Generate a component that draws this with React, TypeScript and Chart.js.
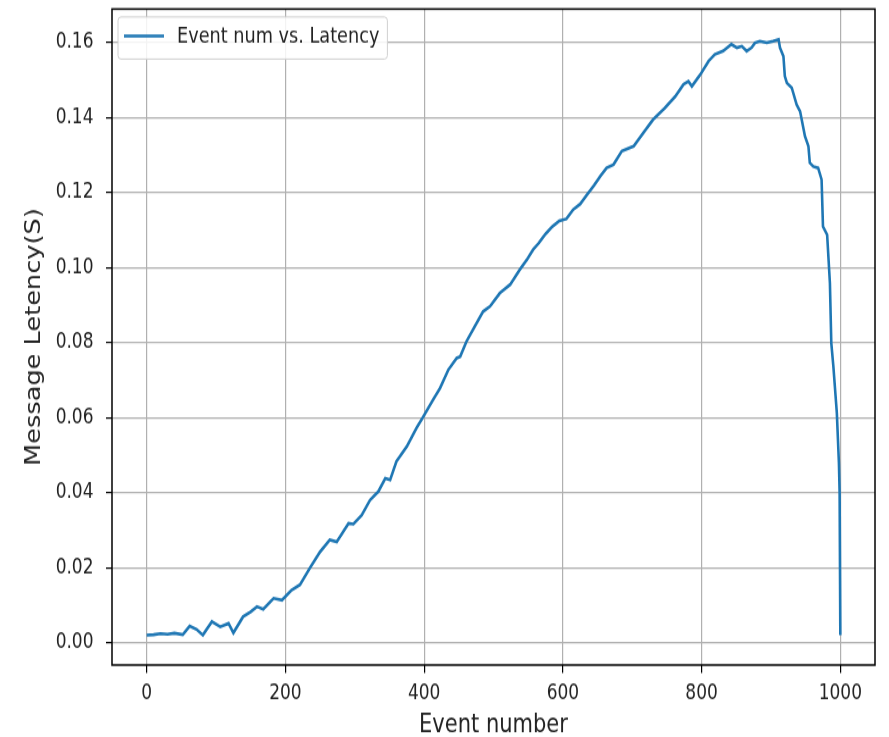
import React, { useEffect, useRef } from 'react';
import { Chart, registerables } from 'chart.js';

Chart.register(...registerables);

// ---- data ----
const seriesLabel = 'Event num vs. Latency';
const xTitle = 'Event number';
const yTitle = 'Message Letency(S)';

const eventNumbers = [
  0, 10, 20, 30, 40, 52, 62, 72, 81, 94, 106, 118, 125, 139, 150, 159, 168, 183, 195, 209,
  221, 235, 250, 264, 274, 291, 298, 310, 322, 334, 344, 351, 360, 375, 389, 399, 413, 423,
  435, 447, 452, 461, 473, 485, 495, 509, 524, 538, 548, 557, 565, 575, 585, 595, 605, 615,
  625, 635, 645, 654, 663, 673, 685, 702, 716, 730, 747, 762, 774, 781, 786, 798, 810, 819,
  831, 843, 851, 858, 865, 872, 877, 884, 894, 903, 911, 913, 918, 920, 923, 930, 937, 942,
  949, 954, 956, 961, 968, 973, 975, 981, 985, 987, 990, 995, 998, 999, 1000,
];

const latencies = [
  0.002, 0.0021, 0.0024, 0.0022, 0.0025, 0.0021, 0.0044, 0.0035, 0.002, 0.0056, 0.0042, 0.0051,
  0.0026, 0.0069, 0.0082, 0.0096, 0.0089, 0.0118, 0.0113, 0.014, 0.0154, 0.0198, 0.0242, 0.0274,
  0.0269, 0.0318, 0.0316, 0.034, 0.038, 0.0403, 0.0438, 0.0434, 0.0483, 0.0523, 0.0572, 0.0603,
  0.0648, 0.0679, 0.0728, 0.0759, 0.0763, 0.0803, 0.0843, 0.0883, 0.0897, 0.0932, 0.0955, 0.0995,
  0.1021, 0.1048, 0.1065, 0.109, 0.111, 0.1125, 0.113, 0.1155, 0.117, 0.1195, 0.122, 0.1244,
  0.1266, 0.1275, 0.1311, 0.1324, 0.136, 0.1395, 0.1426, 0.1457, 0.1489, 0.1497, 0.1484, 0.1515,
  0.1551, 0.1569, 0.1578, 0.1596, 0.1587, 0.1591, 0.1578, 0.1587, 0.16, 0.1604, 0.16, 0.1604,
  0.1609, 0.1587, 0.1564, 0.1511, 0.1493, 0.148, 0.1435, 0.1417, 0.1351, 0.1324, 0.128, 0.127,
  0.1266, 0.1235, 0.111, 0.1088, 0.0959, 0.0799, 0.0736, 0.0612, 0.0478, 0.04, 0.002,
];

const xTickValues = [0, 200, 400, 600, 800, 1000];
const yTickValues = [0, 0.02, 0.04, 0.06, 0.08, 0.1, 0.12, 0.14, 0.16];

const X_MIN = -50;
const X_MAX = 1050;
const Y_MIN = -0.006;
const Y_MAX = 0.169;

// ---- layout ----
const PAGE_W = 889;
const PAGE_H = 737;
const CANVAS_H = 604;
const STRETCH = PAGE_H / CANVAS_H;
const FONT = '"DejaVu Sans", "Noto Sans", sans-serif';
const LINE_COLOR = '#1f77b4';
const TEXT_COLOR = '#222222';

const framePlugin = {
  id: 'axesFrame',
  afterDraw(chart: any) {
    const { ctx, chartArea } = chart;
    ctx.save();
    ctx.strokeStyle = '#000000';
    ctx.lineWidth = 1.5;
    ctx.strokeRect(chartArea.left, chartArea.top, chartArea.right - chartArea.left, chartArea.bottom - chartArea.top);
    ctx.restore();
  },
};

const insideLegendPlugin = {
  id: 'insideLegend',
  afterDraw(chart: any) {
    const { ctx, chartArea } = chart;
    const ds = chart.data.datasets[0];
    ctx.save();
    ctx.font = `17.7px ${FONT}`;
    const textW = ctx.measureText(ds.label).width;
    const x0 = chartArea.left + 6;
    const y0 = chartArea.top + 6.5;
    const w = textW + 67;
    const h = 34.5;
    const r = 3;
    ctx.beginPath();
    ctx.moveTo(x0 + r, y0);
    ctx.lineTo(x0 + w - r, y0);
    ctx.quadraticCurveTo(x0 + w, y0, x0 + w, y0 + r);
    ctx.lineTo(x0 + w, y0 + h - r);
    ctx.quadraticCurveTo(x0 + w, y0 + h, x0 + w - r, y0 + h);
    ctx.lineTo(x0 + r, y0 + h);
    ctx.quadraticCurveTo(x0, y0 + h, x0, y0 + h - r);
    ctx.lineTo(x0, y0 + r);
    ctx.quadraticCurveTo(x0, y0, x0 + r, y0);
    ctx.closePath();
    ctx.fillStyle = 'rgba(255,255,255,0.85)';
    ctx.fill();
    ctx.strokeStyle = '#d0d0d0';
    ctx.lineWidth = 1;
    ctx.stroke();
    ctx.beginPath();
    ctx.moveTo(x0 + 6, y0 + 15.6);
    ctx.lineTo(x0 + 46, y0 + 15.6);
    ctx.strokeStyle = ds.borderColor;
    ctx.lineWidth = ds.borderWidth;
    ctx.stroke();
    ctx.fillStyle = TEXT_COLOR;
    ctx.textBaseline = 'middle';
    ctx.textAlign = 'left';
    ctx.fillText(ds.label, x0 + 59, y0 + 16);
    ctx.restore();
  },
};

export default function App() {
  const canvasRef = useRef<HTMLCanvasElement | null>(null);

  useEffect(() => {
    const canvas = canvasRef.current;
    if (!canvas) return;
    const points = eventNumbers.map((x, i) => ({ x, y: latencies[i] }));
    const chart = new Chart(canvas, {
      type: 'line',
      data: {
        datasets: [
          {
            label: seriesLabel,
            data: points,
            borderColor: LINE_COLOR,
            backgroundColor: LINE_COLOR,
            borderWidth: 2.6,
            pointRadius: 0,
            tension: 0,
            fill: false,
          },
        ],
      },
      options: {
        responsive: false,
        animation: false,
        devicePixelRatio: 1,
        layout: { padding: { top: 7.4, right: 14, bottom: 0, left: 0 } },
        plugins: {
          legend: { display: false },
          tooltip: { enabled: false },
          title: { display: false },
        },
        scales: {
          x: {
            type: 'linear',
            min: X_MIN,
            max: X_MAX,
            afterBuildTicks: (scale: any) => {
              scale.ticks = xTickValues.map((v) => ({ value: v }));
            },
            afterFit: (scale: any) => {
              scale.height = CANVAS_H - 545;
              scale.paddingLeft = 0;
              scale.paddingRight = 0;
            },
            border: { display: false },
            grid: {
              color: '#b0b0b0',
              lineWidth: 1.2,
              tickColor: '#000000',
              tickLength: 6.5,
              tickWidth: 1.2,
            },
            ticks: {
              padding: 7,
              color: TEXT_COLOR,
              font: { family: FONT, size: 17 },
              maxRotation: 0,
              autoSkip: false,
              callback: (v: any) => String(v),
            },
            title: {
              display: true,
              text: xTitle,
              color: TEXT_COLOR,
              font: { family: FONT, size: 21, lineHeight: 0.9 },
              padding: { top: 0, bottom: 0 },
            },
          },
          y: {
            type: 'linear',
            min: Y_MIN,
            max: Y_MAX,
            afterBuildTicks: (scale: any) => {
              scale.ticks = yTickValues.map((v) => ({ value: v }));
            },
            afterFit: (scale: any) => {
              scale.width = 112;
              scale.paddingTop = 0;
              scale.paddingBottom = 0;
            },
            border: { display: false },
            grid: {
              color: '#b0b0b0',
              lineWidth: 1.2,
              tickColor: '#000000',
              tickLength: 6,
              tickWidth: 1.2,
            },
            ticks: {
              padding: 12.5,
              color: TEXT_COLOR,
              font: { family: FONT, size: 17 },
              autoSkip: false,
              callback: (v: any) => Number(v).toFixed(2),
            },
            title: {
              display: true,
              text: yTitle,
              color: TEXT_COLOR,
              font: { family: FONT, size: 21, lineHeight: 1.2 },
              padding: { top: 22.4, bottom: 0 },
            },
          },
        },
      },
      plugins: [framePlugin, insideLegendPlugin],
    } as any);
    return () => {
      chart.destroy();
    };
  }, []);

  return (
    <div
      style={{
        position: 'absolute',
        left: 0,
        top: 0,
        width: PAGE_W,
        height: PAGE_H,
        overflow: 'hidden',
        background: '#ffffff',
      }}
    >
      <div style={{ transform: `scaleY(${STRETCH})`, transformOrigin: '0 0', width: PAGE_W, height: CANVAS_H }}>
        <canvas
          ref={canvasRef}
          width={PAGE_W}
          height={CANVAS_H}
          style={{ display: 'block', width: `${PAGE_W}px`, height: `${CANVAS_H}px` }}
        />
      </div>
    </div>
  );
}
